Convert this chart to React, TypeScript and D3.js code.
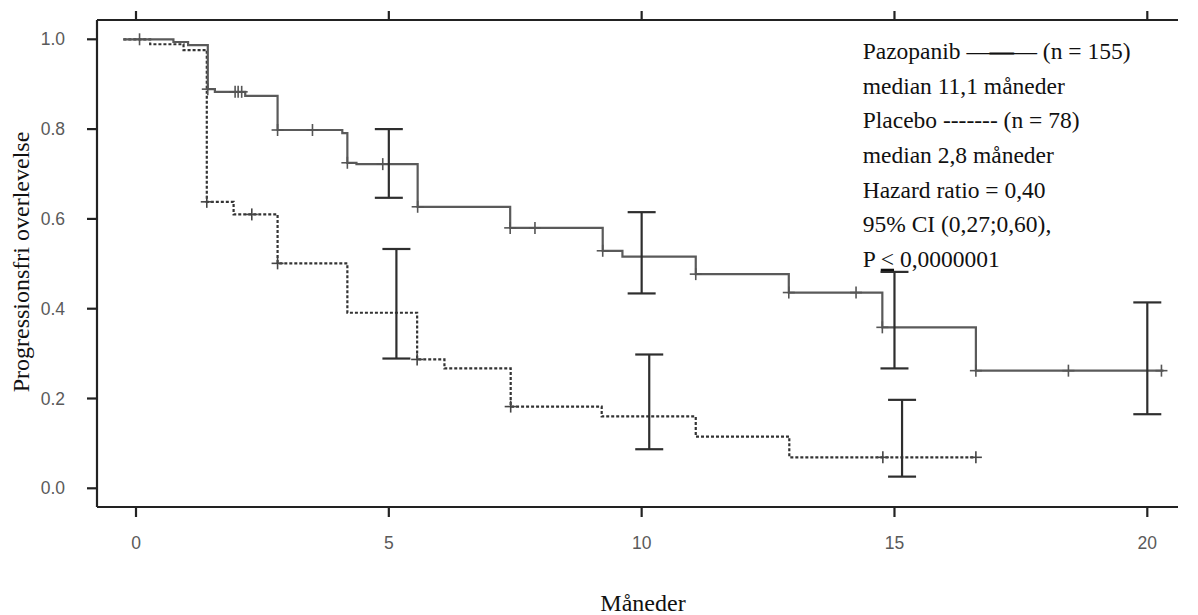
import React from "react";
import * as d3 from "d3";

// x-axis ticks (months) and y-axis ticks (survival)
const xTicks = [0, 5, 10, 15, 20];
const yTicks = [0, 0.2, 0.4, 0.6, 0.8, 1.0];

// Pazopanib Kaplan-Meier steps (value holds from time onward)
const pazoTimes = [-0.25, 0.74, 1.03, 1.42, 1.56, 2.16, 2.8, 4.08, 4.18, 4.36, 5.57, 7.4, 9.23, 9.62, 11.07, 12.91, 14.76, 16.61, 20.32];
const pazoSurv = [1.0, 0.994, 0.987, 0.889, 0.883, 0.874, 0.798, 0.791, 0.725, 0.722, 0.627, 0.58, 0.529, 0.516, 0.477, 0.436, 0.3585, 0.262, 0.262];
const pazoCensor = [0.07, 1.42, 1.96, 2.02, 2.09, 2.8, 3.49, 4.18, 4.88, 5.57, 7.4, 7.89, 9.23, 11.07, 12.91, 14.24, 14.76, 16.61, 18.44, 20.28];

// Placebo steps
const placTimes = [-0.25, 0.28, 0.94, 1.4, 1.93, 2.8, 4.18, 5.56, 6.1, 7.41, 9.21, 11.07, 12.92, 16.61];
const placSurv = [1.0, 0.989, 0.976, 0.638, 0.61, 0.501, 0.391, 0.287, 0.267, 0.182, 0.16, 0.115, 0.069, 0.069];
const placCensor = [1.4, 2.29, 2.8, 5.56, 7.41, 14.77, 16.61];

// 95% CI bars
const pazoCiTimes = [5, 10, 15, 20];
const pazoCiUpper = [0.8, 0.615, 0.482, 0.414];
const pazoCiLower = [0.647, 0.434, 0.267, 0.165];
const placCiTimes = [5.15, 10.15, 15.15];
const placCiUpper = [0.533, 0.298, 0.197];
const placCiLower = [0.289, 0.087, 0.026];

const legendLines = [
  "median 11,1 måneder",
  "Placebo ------- (n = 78)",
  "median 2,8 måneder",
  "Hazard ratio = 0,40",
  "95% CI (0,27;0,60),",
];

const W = 1198;
const H = 615;
const frame = { left: 97, right: 1178, top: 20, bottom: 507 };

const x = d3.scaleLinear().domain([0, 20]).range([136, 1147.3]);
const y = d3.scaleLinear().domain([0, 1]).range([488.3, 39.3]);

const stepLine = d3
  .line<[number, number]>()
  .x((d) => x(d[0]))
  .y((d) => y(d[1]))
  .curve(d3.curveStepAfter);

const valueAt = (times: number[], surv: number[], t: number) => {
  let v = surv[0];
  times.forEach((tt, i) => {
    if (t >= tt - 1e-9) v = surv[i];
  });
  return v;
};

const serif = "'Liberation Serif', 'Times New Roman', serif";
const sans = "'Liberation Sans', Arial, sans-serif";

function Censors({ times, surv, marks, color }: { times: number[]; surv: number[]; marks: number[]; color: string }) {
  return (
    <g stroke={color} strokeWidth={1.6}>
      {marks.map((t, i) => {
        const cx = x(t);
        const cy = y(valueAt(times, surv, t));
        return (
          <g key={i}>
            <line x1={cx} x2={cx} y1={cy - 6} y2={cy + 6} />
            <line x1={cx - 6} x2={cx + 6} y1={cy} y2={cy} />
          </g>
        );
      })}
    </g>
  );
}

function CiBars({ times, upper, lower }: { times: number[]; upper: number[]; lower: number[] }) {
  return (
    <g stroke="#2e2e2e" strokeWidth={2.2}>
      {times.map((t, i) => {
        const cx = x(t);
        return (
          <g key={i}>
            <line x1={cx} x2={cx} y1={y(upper[i])} y2={y(lower[i])} />
            <line x1={cx - 14} x2={cx + 14} y1={y(upper[i])} y2={y(upper[i])} />
            <line x1={cx - 14} x2={cx + 14} y1={y(lower[i])} y2={y(lower[i])} />
          </g>
        );
      })}
    </g>
  );
}

export default function App() {
  const pazoPts = pazoTimes.map((t, i) => [t, pazoSurv[i]] as [number, number]);
  const placPts = placTimes.map((t, i) => [t, placSurv[i]] as [number, number]);
  const rowY = (i: number) => 59.3 + 34.57 * i;

  return (
    <svg width={W} height={H} style={{ position: "absolute", left: 0, top: 0, background: "#fff" }}>
      {/* frame */}
      <g stroke="#222" strokeWidth={2.2} fill="none">
        <line x1={frame.left} x2={frame.right} y1={frame.top} y2={frame.top} />
        <line x1={frame.left} x2={frame.right} y1={frame.bottom} y2={frame.bottom} />
        <line x1={frame.left} x2={frame.left} y1={frame.top} y2={frame.bottom} />
        {xTicks.map((t) => (
          <g key={t}>
            <line x1={x(t)} x2={x(t)} y1={frame.top} y2={frame.top - 9} />
            <line x1={x(t)} x2={x(t)} y1={frame.bottom} y2={frame.bottom + 10} />
          </g>
        ))}
        {yTicks.map((v) => (
          <line key={v} x1={frame.left} x2={frame.left - 10} y1={y(v)} y2={y(v)} />
        ))}
      </g>

      {/* tick labels */}
      <g fill="#5a5a5a" fontFamily={sans} fontSize={17.5}>
        {xTicks.map((t) => (
          <text key={t} x={x(t)} y={549} textAnchor="middle">
            {t}
          </text>
        ))}
        {yTicks.map((v) => (
          <text key={v} x={65} y={y(v)} dy="0.35em" textAnchor="end">
            {v.toFixed(1)}
          </text>
        ))}
      </g>

      {/* axis titles */}
      <text
        transform="translate(29,262) rotate(-90)"
        textAnchor="middle"
        fontFamily={serif}
        fontSize={24}
        fill="#111"
      >
        Progressionsfri overlevelse
      </text>
      <text x={643} y={611} textAnchor="middle" fontFamily={serif} fontSize={24} fill="#111">
        Måneder
      </text>

      {/* curves */}
      <path d={stepLine(placPts) || ""} fill="none" stroke="#333" strokeWidth={2.2} strokeDasharray="3 2" />
      <path d={stepLine(pazoPts) || ""} fill="none" stroke="#5a5a5a" strokeWidth={2.2} />
      <Censors times={placTimes} surv={placSurv} marks={placCensor} color="#444" />
      <Censors times={pazoTimes} surv={pazoSurv} marks={pazoCensor} color="#555" />

      <CiBars times={pazoCiTimes} upper={pazoCiUpper} lower={pazoCiLower} />
      <CiBars times={placCiTimes} upper={placCiUpper} lower={placCiLower} />

      {/* legend text */}
      <g fontFamily={serif} fontSize={23.5} fill="#111">
        <text x={862.7} y={rowY(0)}>
          {"Pazopanib —"}
          <tspan stroke="#111" strokeWidth={0.9}>—</tspan>
          {"— (n = 155)"}
        </text>
        {legendLines.map((s, i) => (
          <text key={i} x={862.7} y={rowY(i + 1)}>
            {s}
          </text>
        ))}
        <text x={862.7} y={rowY(6)}>
          {"P "}
          <tspan textDecoration="underline" style={{ textDecoration: "underline" }}>
            {"<"}
          </tspan>
          {" 0,0000001"}
        </text>
      </g>
    </svg>
  );
}
